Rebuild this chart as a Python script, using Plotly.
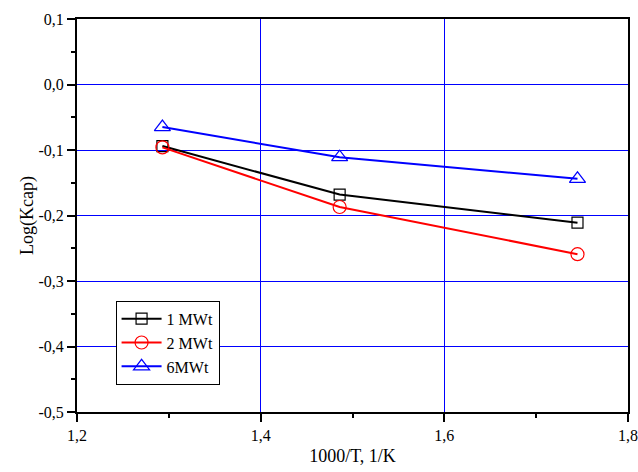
import plotly.graph_objects as go

x_vals = [1.293, 1.486, 1.745]
series_names = ["1 MWt", "2 MWt", "6MWt"]
y_1mwt = [-0.094, -0.168, -0.211]
y_2mwt = [-0.096, -0.187, -0.259]
y_6mwt = [-0.065, -0.111, -0.144]

x_ticks = [1.2, 1.4, 1.6, 1.8]
x_ticklabels = ["1,2", "1,4", "1,6", "1,8"]
y_ticks = [0.1, 0.0, -0.1, -0.2, -0.3, -0.4, -0.5]
y_ticklabels = ["0,1", "0,0", "-0,1", "-0,2", "-0,3", "-0,4", "-0,5"]

font_fam = "Liberation Serif"

fig = go.Figure()
styles = [
    ("#000000", "square-open", 11),
    ("#ff0000", "circle-open", 13),
    ("#0000ff", "triangle-up-open", 14),
]
for name, ys, (col, sym, sz) in zip(series_names, [y_1mwt, y_2mwt, y_6mwt], styles):
    fig.add_trace(go.Scatter(
        x=x_vals, y=ys, name=name, mode="lines+markers",
        line=dict(color=col, width=2),
        marker=dict(symbol=sym, size=sz, color=col, line=dict(color=col, width=1.2)),
    ))

fig.update_layout(
    width=638, height=472,
    margin=dict(l=77, r=10, t=19, b=60),
    paper_bgcolor="white", plot_bgcolor="white",
    font=dict(family=font_fam, size=16, color="black"),
    showlegend=True,
    legend=dict(
        x=0.07, y=0.283, xanchor="left", yanchor="top",
        bgcolor="white", bordercolor="black", borderwidth=1,
        font=dict(family=font_fam, size=16, color="black"),
        tracegroupgap=0, itemwidth=40,
    ),
)
fig.update_xaxes(
    range=[1.2, 1.8], tickvals=x_ticks, ticktext=x_ticklabels,
    automargin=False,
    showline=True, linecolor="black", linewidth=2, mirror=True,
    ticks="outside", ticklen=8, tickwidth=2, tickcolor="black",
    showgrid=True, gridcolor="rgb(0,0,255)", gridwidth=1,
    zeroline=False,
    minor=dict(ticks="outside", ticklen=4, tickwidth=2, tickcolor="black", dtick=0.1, showgrid=False),
    title=dict(text="1000/T, 1/K", font=dict(family=font_fam, size=18), standoff=6),
    tickfont=dict(family=font_fam, size=16),
)
fig.update_yaxes(
    range=[-0.5, 0.1], tickvals=y_ticks, ticktext=y_ticklabels,
    automargin=False,
    showline=True, linecolor="black", linewidth=2, mirror=True,
    ticks="outside", ticklen=8, tickwidth=2, tickcolor="black",
    showgrid=True, gridcolor="rgb(0,0,255)", gridwidth=1,
    zeroline=False,
    minor=dict(ticks="outside", ticklen=4, tickwidth=2, tickcolor="black", dtick=0.05, tick0=0, showgrid=False),
    title=dict(text="Log(Kcap)", font=dict(family=font_fam, size=18), standoff=0),
    tickfont=dict(family=font_fam, size=16),
)

fig.write_html(
    "out.html",
    config={"displayModeBar": False},
    post_script="document.body.style.margin='0';document.body.style.overflow='hidden';",
)
